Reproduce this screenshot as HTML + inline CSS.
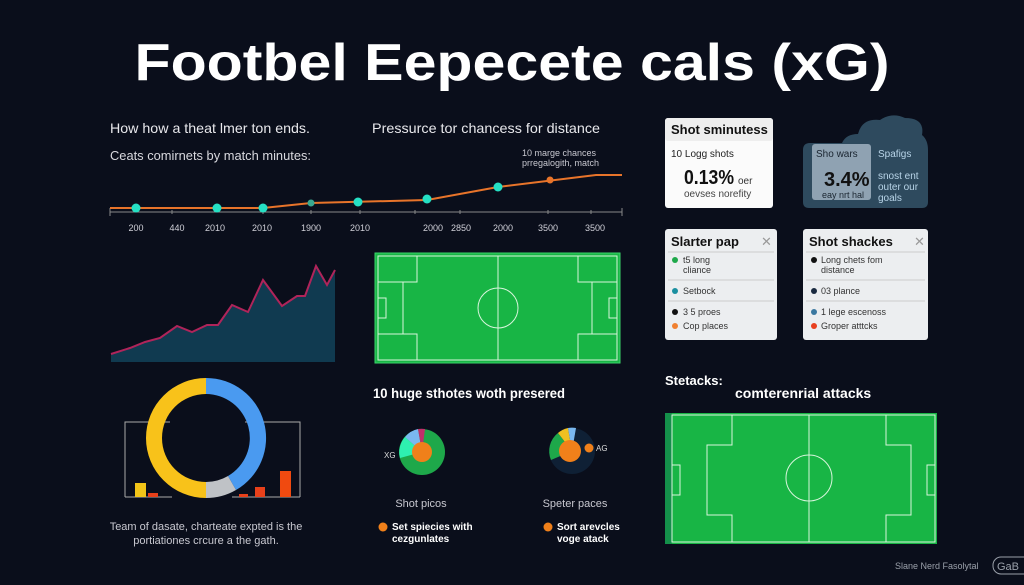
<!DOCTYPE html>
<html><head><meta charset="utf-8"><style>
body{margin:0;background:#0a0e1b;}
svg{display:block;font-family:"Liberation Sans",sans-serif;}
</style></head><body>
<svg width="1024" height="585" viewBox="0 0 1024 585" xmlns="http://www.w3.org/2000/svg">
<rect width="1024" height="585" fill="#0a0e1b"/>
<text x="512" y="80" text-anchor="middle" font-size="52" font-weight="bold" fill="#fff" textLength="755" lengthAdjust="spacingAndGlyphs">Footbel Eepecete cals (xG)</text>

<text x="110" y="133" font-size="14" fill="#e8e8ec" textLength="200" lengthAdjust="spacingAndGlyphs">How how a theat lmer ton ends.</text>
<text x="372" y="133" font-size="14" fill="#e8e8ec" textLength="228" lengthAdjust="spacingAndGlyphs">Pressurce tor chancess for distance</text>
<text x="110" y="160" font-size="13" fill="#d8d8de" textLength="201" lengthAdjust="spacingAndGlyphs">Ceats comirnets by match minutes:</text>
<text x="522" y="156" font-size="9" fill="#c8c8d0">10 marge chances</text>
<text x="522" y="166" font-size="9" fill="#c8c8d0">prregalogith, match</text>
<line x1="110" y1="212" x2="622" y2="212" stroke="#888" stroke-width="1"/>
<g stroke="#888"><line x1="110" y1="208" x2="110" y2="216"/><line x1="172" y1="210" x2="172" y2="214"/><line x1="263" y1="210" x2="263" y2="214"/><line x1="311" y1="210" x2="311" y2="214"/><line x1="360" y1="210" x2="360" y2="214"/><line x1="415" y1="210" x2="415" y2="214"/><line x1="460" y1="210" x2="460" y2="214"/><line x1="548" y1="210" x2="548" y2="214"/><line x1="591" y1="210" x2="591" y2="214"/><line x1="622" y1="208" x2="622" y2="216"/></g>
<polyline points="110,208 263,208 311,203 427,200 498,187 596,175 622,175" fill="none" stroke="#e8742a" stroke-width="2"/>
<g fill="#25e0c4"><circle cx="136" cy="208" r="4.5"/><circle cx="217" cy="208" r="4.5"/><circle cx="263" cy="208" r="4.5"/><circle cx="311" cy="203" r="3.5" fill="#3aa890"/><circle cx="358" cy="202" r="4.5"/><circle cx="427" cy="199" r="4.5"/><circle cx="498" cy="187" r="4.5"/></g>
<circle cx="550" cy="180" r="3.5" fill="#e8742a"/>
<g font-size="9" fill="#d0d0d8" text-anchor="middle"><text x="136" y="231">200</text><text x="177" y="231">440</text><text x="215" y="231">2010</text><text x="262" y="231">2010</text><text x="311" y="231">1900</text><text x="360" y="231">2010</text><text x="433" y="231">2000</text><text x="461" y="231">2850</text><text x="503" y="231">2000</text><text x="548" y="231">3500</text><text x="595" y="231">3500</text></g>

<polygon points="111,354 130,348 145,342 160,338 177,326 192,332 207,325 218,325 232,305 248,312 263,280 282,306 297,296 305,296 316,266 327,285 335,270 335,362 111,362" fill="#103a50"/>
<polyline points="111,354 130,348 145,342 160,338 177,326 192,332 207,325 218,325 232,305 248,312 263,280 282,306 297,296 305,296 316,266 327,285 335,270" fill="none" stroke="#b0245a" stroke-width="2"/>

<g stroke="#d8f5dc" stroke-width="1" fill="none">
<rect x="375" y="253" width="245" height="110" fill="#18b545" stroke="#3ad56a"/>
<rect x="378" y="256" width="239" height="104"/>
<line x1="498" y1="256" x2="498" y2="360"/>
<circle cx="498" cy="308" r="20"/>
<rect x="378" y="256" width="39" height="26"/><rect x="378" y="334" width="39" height="26"/>
<rect x="378" y="282" width="25" height="52"/><rect x="378" y="298" width="8" height="20"/>
<rect x="578" y="256" width="39" height="26"/><rect x="578" y="334" width="39" height="26"/>
<rect x="592" y="282" width="25" height="52"/><rect x="609" y="298" width="8" height="20"/>
</g>

<polyline points="125,497 125,422 170,422" fill="none" stroke="#aaa" stroke-width="1"/>
<polyline points="245,422 300,422 300,497" fill="none" stroke="#aaa" stroke-width="1"/>
<line x1="125" y1="497" x2="172" y2="497" stroke="#aaa"/><line x1="232" y1="497" x2="300" y2="497" stroke="#aaa"/>
<rect x="135" y="483" width="11" height="14" fill="#f2c418"/><rect x="148" y="493" width="10" height="4" fill="#e8401a"/>
<rect x="239" y="494" width="9" height="3" fill="#e8401a"/><rect x="255" y="487" width="10" height="10" fill="#e8401a"/><rect x="280" y="471" width="11" height="26" fill="#f04a10"/>
<path d="M206,378 A60,60 0 0 0 206,498 L206,482 A44,44 0 0 1 206,394Z" fill="#f8c21a"/>
<path d="M206,378 A60,60 0 0 1 236,490 L228,476 A44,44 0 0 0 206,394Z" fill="#4a9af0"/>
<path d="M236,490 A60,60 0 0 1 206,498 L206,482 A44,44 0 0 0 228,476Z" fill="#bfc2c6"/>
<text x="206" y="530" text-anchor="middle" font-size="11" fill="#c8c8d0">Team of dasate, charteate expted is the</text>
<text x="206" y="544" text-anchor="middle" font-size="11" fill="#c8c8d0">portiationes crcure a the gath.</text>

<text x="373" y="398" font-size="14" font-weight="bold" fill="#fff" textLength="192" lengthAdjust="spacingAndGlyphs">10 huge sthotes woth presered</text>
<circle cx="422" cy="452" r="23" fill="#1ea84a"/>
<path d="M422,452 L400,458 A23,23 0 0 1 405,437Z" fill="#2ef0b0"/>
<path d="M422,452 L405,437 A23,23 0 0 1 418,429Z" fill="#7ab8f0"/>
<path d="M422,452 L418,429 A23,23 0 0 1 425,429Z" fill="#c0306a"/>
<circle cx="422" cy="452" r="10" fill="#f0801a"/>
<text x="384" y="458" font-size="8" fill="#ddd">XG</text>
<circle cx="572" cy="451" r="23" fill="#0f2035"/>
<path d="M572,451 L551,460 A23,23 0 0 1 558,433Z" fill="#1ea84a"/>
<path d="M572,451 L558,433 A23,23 0 0 1 568,428Z" fill="#f0c020"/>
<path d="M572,451 L568,428 A23,23 0 0 1 576,428Z" fill="#7ab8f0"/>
<circle cx="570" cy="451" r="11" fill="#f0801a"/>
<circle cx="589" cy="448" r="4.5" fill="#f0801a"/>
<text x="596" y="451" font-size="8" fill="#ddd">AG</text>
<text x="421" y="507" text-anchor="middle" font-size="11" fill="#c8c8d0">Shot picos</text>
<text x="575" y="507" text-anchor="middle" font-size="11" fill="#c8c8d0">Speter paces</text>
<circle cx="383" cy="527" r="4.5" fill="#f0801a"/>
<text x="392" y="530" font-size="10" font-weight="bold" fill="#fff">Set spiecies with</text>
<text x="392" y="542" font-size="10" font-weight="bold" fill="#fff">cezgunlates</text>
<circle cx="548" cy="527" r="4.5" fill="#f0801a"/>
<text x="557" y="530" font-size="10" font-weight="bold" fill="#fff">Sort arevcles</text>
<text x="557" y="542" font-size="10" font-weight="bold" fill="#fff">voge atack</text>

<rect x="665" y="118" width="108" height="90" rx="3" fill="#fbfbfb"/>
<rect x="665" y="118" width="108" height="23" rx="3" fill="#eeeeee"/>
<text x="671" y="134" font-size="13" font-weight="bold" fill="#111">Shot sminutess</text>
<text x="671" y="157" font-size="10" fill="#222">10 Logg shots</text>
<text x="684" y="184" font-size="20" font-weight="bold" fill="#111" textLength="50" lengthAdjust="spacingAndGlyphs">0.13%</text>
<text x="738" y="184" font-size="10" fill="#333">oer</text>
<text x="684" y="197" font-size="10" fill="#444">oevses norefity</text>

<path d="M803,150 Q803,143 810,143 L842,143 Q846,134 858,134 Q862,118 880,120 Q892,112 905,118 Q925,118 922,135 Q928,140 928,150 L928,202 Q928,208 922,208 L809,208 Q803,208 803,202Z" fill="#2e4a5e"/>
<rect x="812" y="144" width="59" height="56" rx="3" fill="#8fa2b2"/>
<text x="816" y="157" font-size="10" fill="#1a2530">Sho wars</text>
<text x="824" y="186" font-size="20" font-weight="bold" fill="#111">3.4%</text>
<text x="822" y="198" font-size="9" fill="#1a2530">eay nrt hal</text>
<g font-size="10" fill="#b8d4e8"><text x="878" y="157">Spafigs</text><text x="878" y="179">snost ent</text><text x="878" y="190">outer our</text><text x="878" y="201">goals</text></g>

<rect x="665" y="229" width="112" height="111" rx="3" fill="#eceef0"/>
<text x="671" y="246" font-size="13" font-weight="bold" fill="#111">Slarter pap</text>
<text x="761" y="246" font-size="13" fill="#999">✕</text>
<g stroke="#ccc"><line x1="668" y1="252" x2="774" y2="252"/><line x1="668" y1="280" x2="774" y2="280"/><line x1="668" y1="301" x2="774" y2="301"/></g>
<circle cx="675" cy="260" r="3" fill="#1ea84a"/><text x="683" y="263" font-size="9" fill="#333">t5 long</text><text x="683" y="273" font-size="9" fill="#333">cliance</text>
<circle cx="675" cy="291" r="3" fill="#1a8fa0"/><text x="683" y="294" font-size="9" fill="#333">Setbock</text>
<circle cx="675" cy="312" r="3" fill="#111"/><text x="683" y="315" font-size="9" fill="#333">3 5 proes</text>
<circle cx="675" cy="326" r="3" fill="#f08030"/><text x="683" y="329" font-size="9" fill="#333">Cop places</text>

<rect x="803" y="229" width="125" height="111" rx="3" fill="#eceef0"/>
<text x="809" y="246" font-size="13" font-weight="bold" fill="#111">Shot shackes</text>
<text x="914" y="246" font-size="13" fill="#999">✕</text>
<g stroke="#ccc"><line x1="806" y1="252" x2="925" y2="252"/><line x1="806" y1="280" x2="925" y2="280"/><line x1="806" y1="301" x2="925" y2="301"/></g>
<circle cx="814" cy="260" r="3" fill="#111"/><text x="821" y="263" font-size="9" fill="#333">Long chets fom</text><text x="821" y="273" font-size="9" fill="#333">distance</text>
<circle cx="814" cy="291" r="3" fill="#1a2a40"/><text x="821" y="294" font-size="9" fill="#333">03 plance</text>
<circle cx="814" cy="312" r="3" fill="#3a78a0"/><text x="821" y="315" font-size="9" fill="#333">1 lege escenoss</text>
<circle cx="814" cy="326" r="3" fill="#e84020"/><text x="821" y="329" font-size="9" fill="#333">Groper atttcks</text>

<text x="665" y="385" font-size="13" font-weight="bold" fill="#fff">Stetacks:</text>
<text x="735" y="398" font-size="14" font-weight="bold" fill="#fff">comterenrial attacks</text>
<rect x="665" y="413" width="272" height="131" fill="#18b545"/>
<rect x="665" y="413" width="7" height="131" fill="#14904a"/>
<g stroke="#d8f5dc" stroke-width="1" fill="none">
<rect x="672" y="415" width="263" height="127"/>
<line x1="809" y1="415" x2="809" y2="542"/>
<circle cx="809" cy="478" r="23"/>
<polyline points="732,415 732,445 707,445 707,515 732,515 732,542"/>
<polyline points="886,415 886,445 911,445 911,515 886,515 886,542"/>
<rect x="672" y="465" width="8" height="30"/><rect x="927" y="465" width="8" height="30"/>
</g>
<text x="895" y="569" font-size="9" fill="#9aa0aa">Slane Nerd Fasolytal</text>
<rect x="993" y="557" width="40" height="17" rx="8" fill="none" stroke="#9aa0aa"/>
<text x="997" y="570" font-size="11" fill="#9aa0aa">GaB</text>
</svg>
</body></html>
